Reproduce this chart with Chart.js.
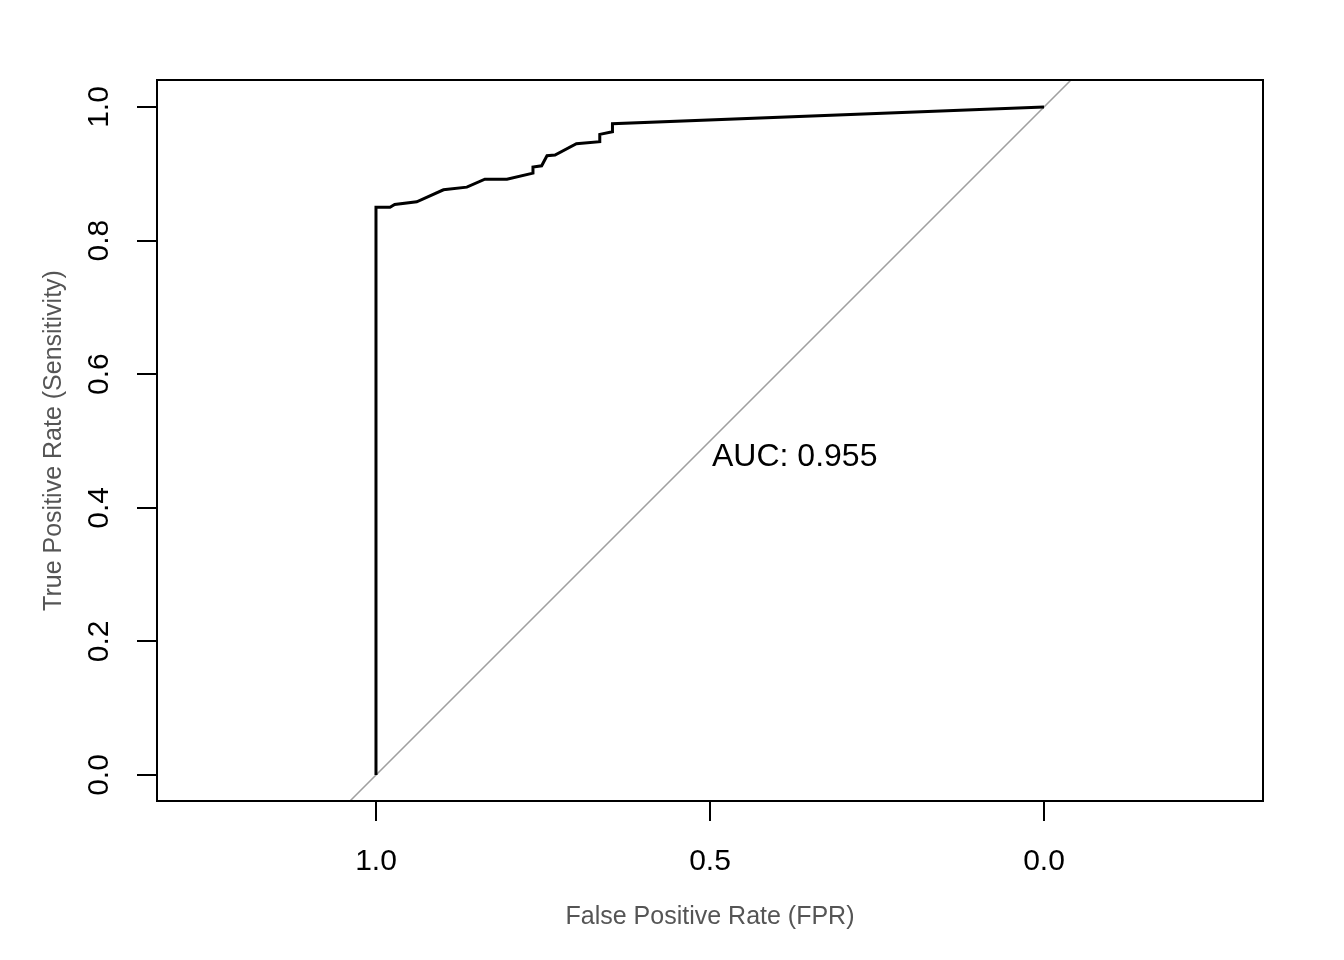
<!DOCTYPE html>
<html>
<head>
<meta charset="utf-8">
<script src="https://cdn.jsdelivr.net/npm/chart.js@4/dist/chart.umd.min.js"></script>
<style>
  html, body { margin: 0; padding: 0; background: #fff; }
</style>
</head>
<body>
<canvas id="rocChart" width="1344" height="960"></canvas>
<script>
// ROC curve (x axis is specificity, drawn 1 -> 0)
const specificity = [1.0, 1.0, 0.979, 0.972, 0.939, 0.899, 0.864, 0.837, 0.804, 0.765, 0.765, 0.752, 0.744, 0.732, 0.700, 0.665, 0.665, 0.646, 0.646, 0.0];
const sensitivity = [0.0, 0.850, 0.850, 0.854, 0.858, 0.876, 0.880, 0.892, 0.892, 0.901, 0.910, 0.912, 0.927, 0.928, 0.945, 0.948, 0.959, 0.963, 0.975, 1.0];

// chance line
const diagX = [1.1, -0.1];
const diagY = [-0.1, 1.1];

const xTicks = [1.0, 0.5, 0.0];
const yTicks = [0.0, 0.2, 0.4, 0.6, 0.8, 1.0];
const aucText = 'AUC: 0.955';
const aucPos = [0.5, 0.5];

const fontFamily = '"Liberation Sans", Arial, sans-serif';

function toPoints(xs, ys) {
    return xs.map((x, i) => ({ x: x, y: ys[i] }));
}

// box around the plot region + AUC label
const frameAndText = {
    id: 'frameAndText',
    afterDatasetsDraw(chart) {
        const { ctx, chartArea, scales } = chart;
        ctx.save();
        ctx.strokeStyle = '#000';
        ctx.lineWidth = 2;
        ctx.strokeRect(chartArea.left, chartArea.top, chartArea.right - chartArea.left, chartArea.bottom - chartArea.top);

        ctx.fillStyle = '#000';
        ctx.font = '32px ' + fontFamily;
        ctx.textAlign = 'left';
        ctx.textBaseline = 'alphabetic';
        const px = scales.x.getPixelForValue(aucPos[0]);
        const py = scales.y.getPixelForValue(aucPos[1]);
        ctx.fillText(aucText, px + 2, py + 25);
        ctx.restore();
    }
};

const ctx = document.getElementById('rocChart').getContext('2d');
const rocChart = new Chart(ctx, {
    type: 'line',
    data: {
        datasets: [
            {
                data: toPoints(diagX, diagY),
                borderColor: '#a0a0a0',
                borderWidth: 1.5,
                pointRadius: 0,
                clip: 0,
                order: 2
            },
            {
                data: toPoints(specificity, sensitivity),
                borderColor: '#000',
                borderWidth: 3,
                pointRadius: 0,
                clip: 0,
                order: 1
            }
        ]
    },
    options: {
        responsive: false,
        animation: false,
        devicePixelRatio: 1,
        layout: { padding: { top: 80, right: 81, left: 0, bottom: 0 } },
        plugins: {
            legend: { display: false },
            tooltip: { enabled: false }
        },
        scales: {
            x: {
                type: 'linear',
                reverse: true,
                min: -0.3278,
                max: 1.3278,
                afterBuildTicks: (scale) => { scale.ticks = xTicks.map(v => ({ value: v })); },
                afterFit: (scale) => { scale.height = 159; },
                border: { display: false },
                grid: { drawOnChartArea: false, drawTicks: true, tickLength: 20, color: '#000', lineWidth: 2 },
                ticks: {
                    color: '#000',
                    font: { size: 30, family: fontFamily },
                    padding: 23,
                    maxRotation: 0,
                    callback: (v) => Number(v).toFixed(1)
                },
                title: {
                    display: true,
                    text: 'False Positive Rate (FPR)',
                    color: '#555555',
                    font: { size: 25, family: fontFamily },
                    padding: { top: 0, bottom: 28 }
                }
            },
            y: {
                type: 'linear',
                min: -0.0389,
                max: 1.0404,
                afterBuildTicks: (scale) => { scale.ticks = yTicks.map(v => ({ value: v })); },
                afterFit: (scale) => { scale.width = 157; },
                border: { display: false },
                grid: { drawOnChartArea: false, drawTicks: true, tickLength: 20, color: '#000', lineWidth: 2 },
                ticks: {
                    color: '#000',
                    font: { size: 30, family: fontFamily },
                    padding: 16,
                    minRotation: 90,
                    maxRotation: 90,
                    crossAlign: 'center',
                    callback: (v) => Number(v).toFixed(1)
                },
                title: {
                    display: true,
                    text: 'True Positive Rate (Sensitivity)',
                    color: '#555555',
                    font: { size: 25, family: fontFamily },
                    padding: { top: 39, bottom: 0 }
                }
            }
        }
    },
    plugins: [frameAndText]
});
</script>
</body>
</html>
